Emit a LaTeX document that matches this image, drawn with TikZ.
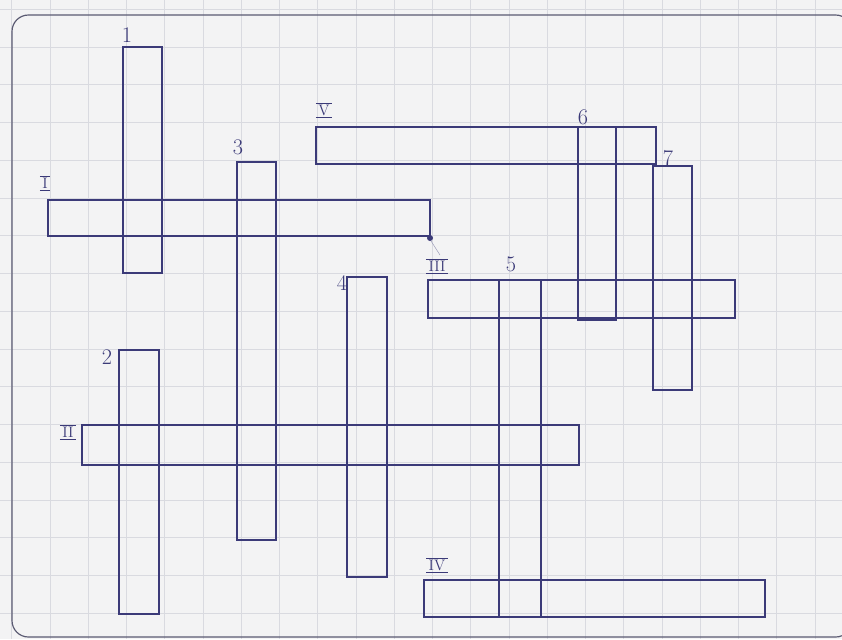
\documentclass[tikz,border=0pt]{standalone}
\usepackage{fontspec}
\definecolor{paper}{HTML}{F3F3F4}
\definecolor{gridc}{HTML}{D9DAE0}
\definecolor{ink}{HTML}{3B3A78}
\definecolor{frame}{HTML}{5A5A72}
\newcommand\romlab[1]{$\overline{\underline{\mbox{\,#1\,}}}$}
\tikzset{
  wordbox/.style={draw=ink, line width=1.1pt},
  numlab/.style={text=ink, font=\fontsize{19}{19}\selectfont, inner sep=0pt},
  romlabel/.style={text=ink, font=\fontsize{13}{13}\selectfont, inner sep=0pt},
  gridline/.style={draw=gridc, line width=0.5pt}
}
\begin{document}
\begin{tikzpicture}[x=0.03cm, y=-0.03cm]
\useasboundingbox (0,0) rectangle (842,639);
\fill[paper] (0,0) rectangle (842,639);
% grid
\foreach \k in {-1,...,21} {\draw[gridline] ({50+38.25*\k},0) -- ({50+38.25*\k},639);}
\foreach \k in {-1,...,16} {\draw[gridline] (0,{47+37.75*\k}) -- (842,{47+37.75*\k});}
% frame
\draw[frame, line width=1pt, rounded corners=14] (12,15) rectangle (852,637);
% words (vertical, arabic)
\draw[wordbox] (123,47) rectangle (162,273);
\draw[wordbox] (119,350) rectangle (159,614);
\draw[wordbox] (237,162) rectangle (276,540);
\draw[wordbox] (347,277) rectangle (387,577);
\draw[wordbox] (499,280) rectangle (541,617);
\draw[wordbox] (578,127) rectangle (616,320);
\draw[wordbox] (653,166) rectangle (692,390);
% words (horizontal, roman)
\draw[wordbox] (48,200) rectangle (430,236);
\draw[wordbox] (82,425) rectangle (579,465);
\draw[wordbox] (428,280) rectangle (735,318);
\draw[wordbox] (424,580) rectangle (765,617);
\draw[wordbox] (316,127) rectangle (656,164);
% dot at end of I
\fill[ink] (430,238) circle (3);
\draw[gridc!60!ink, line width=0.4pt] (431,241) -- (440,255);
% labels
\node[numlab] (l1) at (127,35) {1};
\node[numlab] (l2) at (107,357) {2};
\node[numlab] (l3) at (238,147) {3};
\node[numlab] (l4) at (342,283) {4};
\node[numlab] (l5) at (511,264) {5};
\node[numlab] (l6) at (583,117) {6};
\node[numlab] (l7) at (668,158) {7};
\node[romlabel] (rI) at (45,183) {\romlab{I}};
\node[romlabel] (rII) at (68,432) {\romlab{II}};
\node[romlabel] (rIII) at (437,266) {\romlab{III}};
\node[romlabel] (rIV) at (437,565) {\romlab{IV}};
\node[romlabel] (rV) at (324,110) {\romlab{V}};
\end{tikzpicture}
\end{document}
